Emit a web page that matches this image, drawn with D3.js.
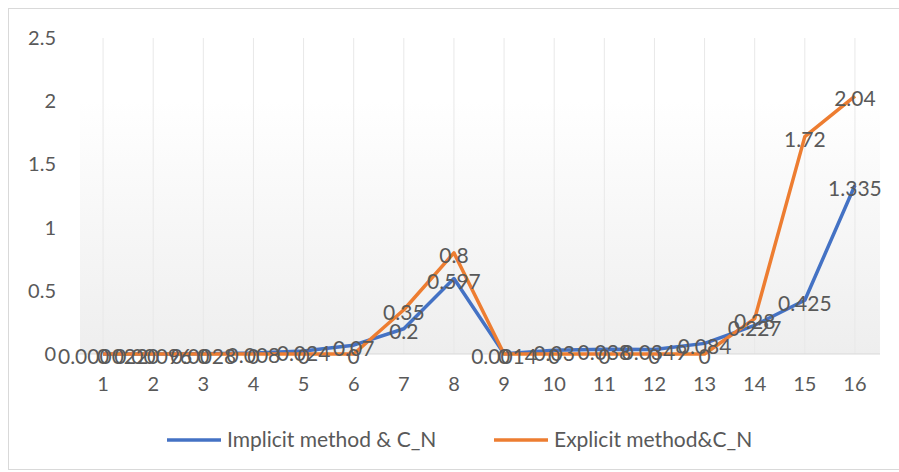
<!DOCTYPE html>
<html>
<head>
<meta charset="utf-8">
<script src="https://cdn.jsdelivr.net/npm/d3@7"></script>
<style>
  body { margin: 0; background: #fff; }
  text { font-family: Lato, "Open Sans", sans-serif; fill: #595959; }
</style>
</head>
<body>
<svg width="899" height="472"></svg>
<script>
const categories = ["1", "2", "3", "4", "5", "6", "7", "8", "9", "10", "11", "12", "13", "14", "15", "16"]
const implicitCN = [0.000022, 0.00096, 0.0028, 0.008, 0.024, 0.07, 0.2, 0.597, 0.0014, 0.03, 0.038, 0.0349, 0.084, 0.227, 0.425, 1.335]
const explicitCN = [0, 0, 0, 0, 0, 0, 0.35, 0.8, 0, 0, 0, 0, 0, 0.28, 1.72, 2.04]
const yTicks = [0, 0.5, 1, 1.5, 2, 2.5]
const seriesNames = ["Implicit method & C_N", "Explicit method&C_N"]

const svg = d3.select("svg")

const xScale = d3.scaleBand().domain(categories).range([78, 880])
const xMid = d => xScale(d) + xScale.bandwidth() / 2
const yScale = d3.scaleLinear().domain([0, 2.5]).range([354, 38])

// chart border
svg.append("rect")
    .attr("x", 8.5).attr("y", 8.5)
    .attr("width", 900).attr("height", 461)
    .style("fill", "white")
    .style("stroke", "#d9d9d9")

// plot background gradient
const grad = svg.append("defs").append("linearGradient")
    .attr("id", "bg").attr("x1", 0).attr("y1", 0).attr("x2", 0).attr("y2", 1)
grad.append("stop").attr("offset", "0%").attr("stop-color", "#ffffff")
grad.append("stop").attr("offset", "20%").attr("stop-color", "#ffffff")
grad.append("stop").attr("offset", "100%").attr("stop-color", "#eeeeee")

svg.append("rect")
    .attr("x", 80).attr("y", yScale(2.5))
    .attr("width", 800).attr("height", yScale(0) - yScale(2.5))
    .style("fill", "url(#bg)")

// vertical gridlines at categories
svg.selectAll("line.vgrid")
    .data(categories)
    .enter()
    .append("line")
    .attr("class", "vgrid")
    .attr("x1", d => xMid(d)).attr("x2", d => xMid(d))
    .attr("y1", yScale(2.5)).attr("y2", yScale(0))
    .style("stroke", "#e8e8e8")
    .style("stroke-width", 1)

// bottom axis line
svg.append("line")
    .attr("x1", 78).attr("x2", 880)
    .attr("y1", yScale(0)).attr("y2", yScale(0))
    .style("stroke", "#d9d9d9")

// y-axis labels
svg.selectAll("text.ytick")
    .data(yTicks)
    .enter()
    .append("text")
    .attr("class", "ytick")
    .attr("x", 56)
    .attr("y", d => yScale(d))
    .attr("dy", "0.35em")
    .style("text-anchor", "end")
    .style("font-size", "20px")
    .text(d => d)

// x-axis labels
svg.selectAll("text.xtick")
    .data(categories)
    .enter()
    .append("text")
    .attr("class", "xtick")
    .attr("x", d => xMid(d))
    .attr("y", 384)
    .attr("dy", "0.35em")
    .style("text-anchor", "middle")
    .style("font-size", "20px")
    .text(d => d)

const series = [
    { name: seriesNames[0], values: implicitCN, color: "#4472C4" },
    { name: seriesNames[1], values: explicitCN, color: "#ED7D31" }
]

const line = d3.line()
    .x((d, i) => xMid(categories[i]))
    .y(d => yScale(d))

series.forEach(s => {
    svg.append("path")
        .datum(s.values)
        .attr("d", line)
        .style("fill", "none")
        .style("stroke", s.color)
        .style("stroke-width", 3.5)
        .style("stroke-linejoin", "round")
})

// data labels, centered on the points
series.forEach(s => {
    svg.selectAll(null)
        .data(s.values)
        .enter()
        .append("text")
        .attr("x", (d, i) => xMid(categories[i]))
        .attr("y", d => yScale(d) + 3)
        .attr("dy", "0.35em")
        .style("text-anchor", "middle")
        .style("font-size", "21px")
        .text(d => d)
})

// legend
const legend = svg.append("g").attr("transform", "translate(167,440)")
series.forEach((s, i) => {
    const g = legend.append("g").attr("transform", `translate(${i * 327},0)`)
    g.append("line")
        .attr("x1", 0).attr("x2", 54)
        .attr("y1", 0).attr("y2", 0)
        .style("stroke", s.color)
        .style("stroke-width", 3.5)
    g.append("text")
        .attr("x", 60)
        .attr("y", 0)
        .attr("dy", "0.35em")
        .style("font-size", "21px")
        .text(s.name)
})
</script>
</body>
</html>
